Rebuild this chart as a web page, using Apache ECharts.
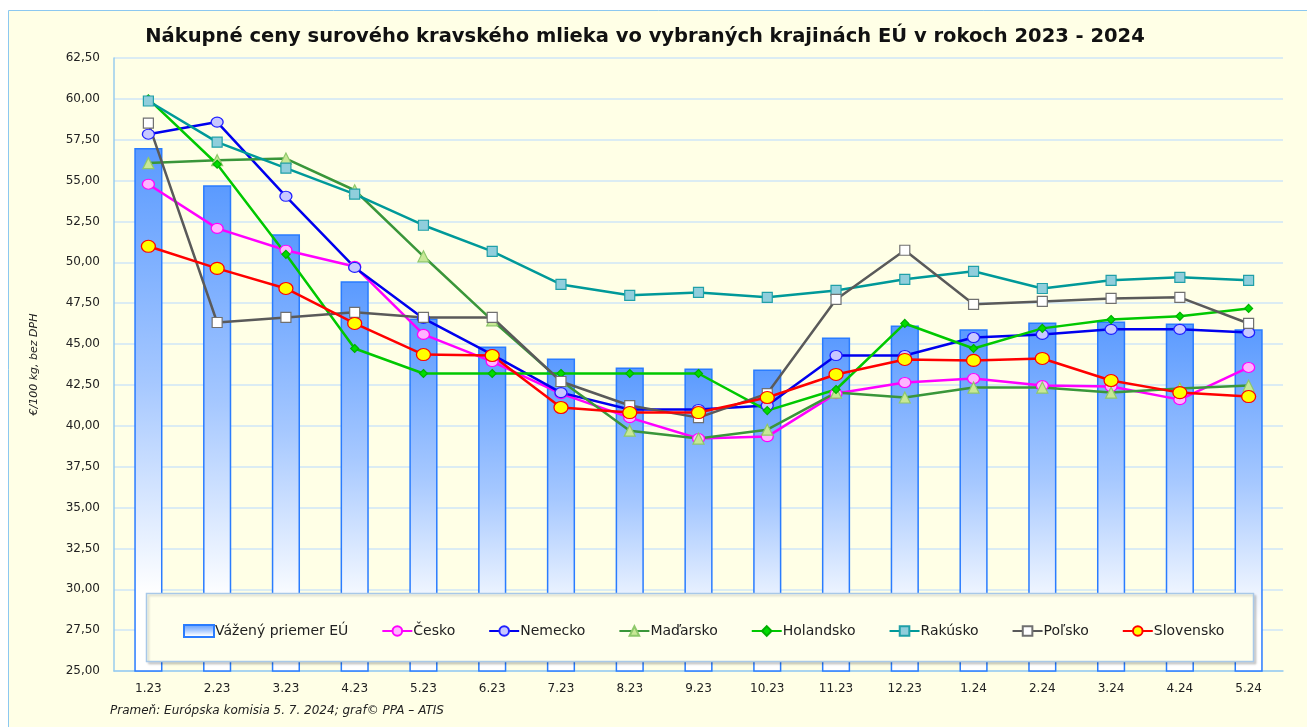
<!DOCTYPE html>
<html>
<head>
<meta charset="utf-8">
<script src="https://cdn.jsdelivr.net/npm/echarts@6/dist/echarts.min.js"></script>
<style>
  html, body { margin: 0; padding: 0; background: #fff; }
  #chart { width: 1307px; height: 727px; }
</style>
</head>
<body>
<div id="chart"></div>
<script>
var months = ['1.23', '2.23', '3.23', '4.23', '5.23', '6.23', '7.23', '8.23', '9.23', '10.23', '11.23', '12.23', '1.24', '2.24', '3.24', '4.24', '5.24'];

var euAvg     = [57.0, 54.72, 51.72, 48.84, 46.57, 44.85, 44.12, 43.57, 43.5, 43.44, 45.4, 46.14, 45.9, 46.32, 46.38, 46.26, 45.9];
var cesko     = [54.78, 52.08, 50.74, 49.75, 45.59, 43.93, 41.97, 40.5, 39.22, 39.34, 41.97, 42.65, 42.89, 42.46, 42.4, 41.6, 43.57];
var nemecko   = [57.84, 58.58, 54.04, 49.69, 46.57, 44.35, 42.03, 41.0, 41.0, 41.24, 44.3, 44.3, 45.4, 45.59, 45.9, 45.9, 45.71];
var madarsko  = [56.07, 56.25, 56.35, 54.41, 50.37, 46.45, 42.75, 39.7, 39.22, 39.76, 42.03, 41.73, 42.34, 42.34, 42.03, 42.28, 42.46];
var holandsko = [60.0, 56.0, 50.49, 44.73, 43.2, 43.2, 43.2, 43.2, 43.2, 40.93, 42.22, 46.26, 44.73, 45.96, 46.5, 46.7, 47.18];
var rakusko   = [59.87, 57.35, 55.76, 54.17, 52.27, 50.67, 48.65, 47.98, 48.16, 47.86, 48.28, 48.96, 49.45, 48.4, 48.9, 49.08, 48.9];
var polsko    = [58.52, 46.32, 46.63, 46.94, 46.63, 46.63, 42.71, 41.24, 40.5, 41.97, 47.73, 50.74, 47.43, 47.61, 47.79, 47.86, 46.26];
var slovensko = [50.98, 49.63, 48.4, 46.26, 44.36, 44.3, 41.12, 40.81, 40.81, 41.73, 43.14, 44.06, 44.0, 44.12, 42.77, 42.03, 41.79];

var FONT = '"DejaVu Sans", Verdana, sans-serif';

function line(name, data, color, symbol, size, fill, border) {
    return {
        name: name,
        type: 'line',
        data: data,
        z: 5,
        symbol: symbol,
        symbolSize: size,
        showAllSymbol: true,
        lineStyle: { color: color, width: 2.5 },
        itemStyle: { color: fill, borderColor: border || color, borderWidth: 1.2 },
        emphasis: { disabled: true }
    };
}

var myChart = echarts.init(document.getElementById('chart'));

var option = {
    animation: false,
    backgroundColor: '#ffffff',
    textStyle: { fontFamily: FONT },
    graphic: [
        {
            type: 'rect',
            z: -10,
            shape: { x: 8.5, y: 10.5, width: 1320, height: 740 },
            style: { fill: '#FFFFE6', stroke: '#8cc8f0', lineWidth: 1 }
        },
        {
            type: 'rect',
            z: 3,
            shape: { x: 146.5, y: 593.5, width: 1107, height: 68 },
            style: { fill: '#FFFFEC', stroke: '#a8c8e8', lineWidth: 1.5, shadowColor: 'rgba(0,0,0,0.15)', shadowOffsetX: 2, shadowOffsetY: 2, shadowBlur: 2 }
        },
        {
            type: 'text',
            left: 110,
            top: 705,
            style: {
                text: 'Prameň: Európska komisia 5. 7. 2024; graf© PPA – ATIS',
                font: 'italic 12px ' + FONT,
                fill: '#222'
            }
        }
    ],
    title: {
        text: 'Nákupné ceny surového kravského mlieka vo vybraných krajinách EÚ v rokoch 2023 - 2024',
        left: 640,
        textAlign: 'center',
        top: 22,
        textStyle: { fontFamily: FONT, fontSize: 19.5, fontWeight: 'bold', color: '#111' }
    },
    legend: {
        left: 178,
        top: 619,
        z: 6,
        itemGap: 33,
        itemWidth: 30,
        itemHeight: 12,
        textStyle: { fontFamily: FONT, fontSize: 14, color: '#222', padding: [0, 0, 0, -4] },
        data: [
            { name: 'Vážený priemer EÚ', icon: 'rect' },
            'Česko', 'Nemecko', 'Maďarsko', 'Holandsko', 'Rakúsko', 'Poľsko', 'Slovensko'
        ]
    },
    grid: { left: 114, right: 24, top: 58, bottom: 56, containLabel: false },
    xAxis: {
        type: 'category',
        data: months,
        axisLine: { lineStyle: { color: '#99ccee', width: 1.5 } },
        axisTick: { show: false },
        axisLabel: { fontFamily: FONT, fontSize: 12, color: '#222', margin: 12 }
    },
    yAxis: {
        type: 'value',
        min: 25,
        max: 62.5,
        interval: 2.5,
        name: '€/100 kg, bez DPH',
        nameLocation: 'middle',
        nameGap: 74,
        nameTextStyle: { fontFamily: FONT, fontSize: 11, fontStyle: 'italic', color: '#222' },
        axisLine: { show: true, lineStyle: { color: '#99ccee', width: 1.5 } },
        axisTick: { show: false },
        splitLine: { lineStyle: { color: '#cfe6f7', width: 1.5 } },
        axisLabel: {
            fontFamily: FONT, fontSize: 12, color: '#222', margin: 14,
            formatter: function (v) { return v.toFixed(2).replace('.', ','); }
        }
    },
    series: [
        {
            name: 'Vážený priemer EÚ',
            type: 'bar',
            data: euAvg,
            z: 2,
            barWidth: '41%',
            itemStyle: {
                borderColor: '#2a7cff',
                borderWidth: 1.5,
                color: new echarts.graphic.LinearGradient(0, 0, 0, 1, [
                    { offset: 0, color: '#5a9aff' },
                    { offset: 0.45, color: '#a6c8ff' },
                    { offset: 0.85, color: '#ffffff' },
                    { offset: 1, color: '#ffffff' }
                ])
            },
            emphasis: { disabled: true }
        },
        line('Česko', cesko, '#ff00ff', 'circle', [12, 10], '#ffb4ff', '#ff00ff'),
        line('Nemecko', nemecko, '#0000ee', 'circle', [12, 10], '#c8c8ff', '#2020ff'),
        line('Maďarsko', madarsko, '#3a963a', 'triangle', 11, '#c8e896', '#8ec86a'),
        line('Holandsko', holandsko, '#00c800', 'diamond', 8, '#00dd00', '#00b000'),
        line('Rakúsko', rakusko, '#009999', 'rect', 10, '#90cedc', '#20a0a8'),
        line('Poľsko', polsko, '#5a5a5a', 'rect', 10, '#ffffff', '#707070'),
        line('Slovensko', slovensko, '#ff0000', 'circle', [14, 12], '#ffff00', '#ff0000')
    ]
};

myChart.setOption(option);
</script>
</body>
</html>
